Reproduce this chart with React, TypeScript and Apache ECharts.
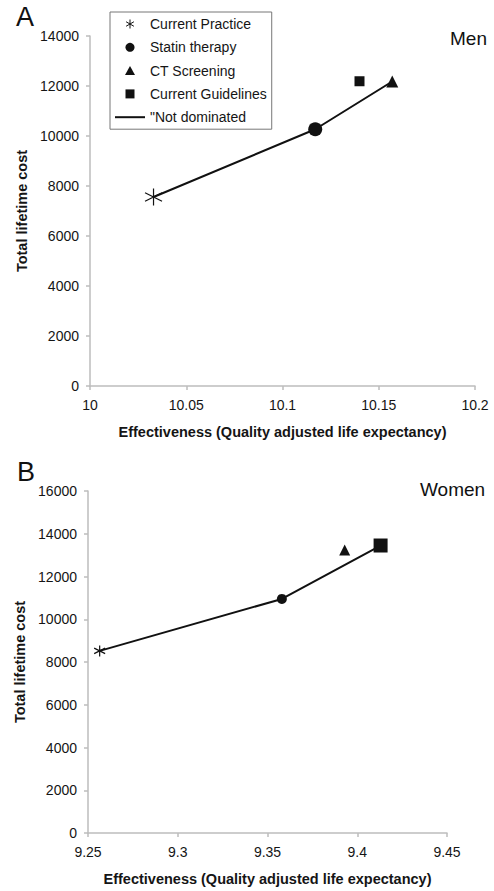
import React, { useEffect, useRef } from "react";
import * as echarts from "echarts";

const strategies = ["Current Practice", "Statin therapy", "CT Screening", "Current Guidelines"];
const frontierName = '"Not dominated';

const menEffect = [10.033, 10.117, 10.157, 10.14];
const menCost = [7560, 10270, 12180, 12190];
const menFrontier = ["Current Practice", "Statin therapy", "CT Screening"];

const womenEffect = [9.2565, 9.358, 9.393, 9.413];
const womenCost = [8520, 10950, 13240, 13450];
const womenFrontier = ["Current Practice", "Statin therapy", "Current Guidelines"];

const menXTicks = { min: 10, max: 10.2, interval: 0.05 };
const menYTicks = { min: 0, max: 14000, interval: 2000 };
const womenXTicks = { min: 9.25, max: 9.45, interval: 0.05 };
const womenYTicks = { min: 0, max: 16000, interval: 2000 };

const FONT = "'Liberation Sans', Arial, Helvetica, sans-serif";
const INK = "#111";
const TEXT = "#151515";
const AXIS = "#bdbdbd";

const ASTER = "path://M0,-1L0,1M-0.87,-0.5L0.87,0.5M-0.87,0.5L0.87,-0.5";
const TRI = "path://M0,-1L1,0.8L-1,0.8Z";
const SQUARE = "path://M0,0L1,0L1,1L0,1Z";
const LINEICON = "path://M0,0L30,0L30,2L0,2Z";
const symbols = [ASTER, "circle", TRI, SQUARE];

function buildSeries(
  idx: number,
  effect: number[],
  cost: number[],
  frontier: string[],
  sizes: number[]
) {
  const line = {
    type: "line",
    name: frontierName,
    xAxisIndex: idx,
    yAxisIndex: idx,
    symbol: "none",
    lineStyle: { color: INK, width: 2 },
    itemStyle: { color: INK },
    data: frontier.map((n) => {
      const i = strategies.indexOf(n);
      return [effect[i], cost[i]];
    }),
    z: 2,
  };
  const pts = strategies.map((n, i) => ({
    type: "scatter",
    name: n,
    xAxisIndex: idx,
    yAxisIndex: idx,
    symbol: symbols[i],
    symbolSize: sizes[i],
    itemStyle:
      i === 0
        ? { color: "none", borderColor: INK, borderWidth: 1.2, opacity: 1 }
        : { color: INK, opacity: 1 },
    data: [[effect[i], cost[i]]],
    z: 3,
  }));
  return [line, ...pts];
}

function xAxis(idx: number, t: any) {
  return {
    type: "value",
    gridIndex: idx,
    min: t.min,
    max: t.max,
    interval: t.interval,
    name: "Effectiveness (Quality adjusted life expectancy)",
    nameLocation: "middle",
    nameGap: 38,
    nameTextStyle: { fontFamily: FONT, fontSize: 14.5, fontWeight: "bold", color: TEXT },
    axisLine: { show: true, lineStyle: { color: AXIS, width: 1.5 } },
    axisTick: { show: true, length: 4, lineStyle: { color: AXIS, width: 1.5 } },
    axisLabel: { fontFamily: FONT, fontSize: 14, color: TEXT, margin: 12 },
    splitLine: { show: false },
  };
}

function yAxis(idx: number, t: any) {
  return {
    type: "value",
    gridIndex: idx,
    min: t.min,
    max: t.max,
    interval: t.interval,
    name: "Total lifetime cost",
    nameLocation: "middle",
    nameGap: 51,
    nameTextStyle: { fontFamily: FONT, fontSize: 14.5, fontWeight: "bold", color: TEXT },
    axisLine: { show: true, lineStyle: { color: AXIS, width: 1.5 } },
    axisTick: { show: true, length: 4, lineStyle: { color: AXIS, width: 1.5 } },
    axisLabel: {
      fontFamily: FONT,
      fontSize: 14,
      color: TEXT,
      margin: 11,
      formatter: (v: number) => String(v),
    },
    splitLine: { show: false },
  };
}

export default function App() {
  const ref = useRef<HTMLDivElement>(null);
  useEffect(() => {
    if (!ref.current) return;
    const chart = echarts.init(ref.current, undefined, { renderer: "svg" });
    chart.setOption({
      animation: false,
      backgroundColor: "#fff",
      grid: [
        { left: 90, top: 36, width: 385, height: 350 },
        { left: 88, top: 491, width: 359, height: 342 },
      ],
      xAxis: [xAxis(0, menXTicks), xAxis(1, womenXTicks)],
      yAxis: [yAxis(0, menYTicks), yAxis(1, womenYTicks)],
      legend: {
        orient: "vertical",
        left: 110,
        top: 12,
        padding: [5, 5, 5, 5],
        itemGap: 9.3,
        itemWidth: 30,
        itemHeight: 9,
        borderColor: "#777",
        borderWidth: 1,
        backgroundColor: "#fff",
        selectedMode: false,
        textStyle: { fontFamily: FONT, fontSize: 14, color: TEXT },
        data: [
          {
            name: "Current Practice",
            icon: ASTER,
            itemStyle: { color: "none", borderColor: INK, borderWidth: 1, opacity: 1 },
          },
          { name: "Statin therapy", icon: "circle", itemStyle: { color: INK, opacity: 1 } },
          { name: "CT Screening", icon: TRI, itemStyle: { color: INK, opacity: 1 } },
          { name: "Current Guidelines", icon: SQUARE, itemStyle: { color: INK, opacity: 1 } },
          { name: frontierName, icon: LINEICON, itemStyle: { color: INK, opacity: 1 } },
        ],
      },
      graphic: [
        { type: "text", left: 16, top: 3, style: { text: "A", font: `27px ${FONT}`, fill: INK } },
        { type: "text", left: 450, top: 29, style: { text: "Men", font: `19px ${FONT}`, fill: INK } },
        { type: "text", left: 17, top: 458, style: { text: "B", font: `27px ${FONT}`, fill: INK } },
        { type: "text", left: 420, top: 480, style: { text: "Women", font: `19px ${FONT}`, fill: INK } },
      ],
      series: [
        ...buildSeries(0, menEffect, menCost, menFrontier, [17, 14, 12, 10]),
        ...buildSeries(1, womenEffect, womenCost, womenFrontier, [11, 10, 11, 14]),
      ],
    });
    return () => chart.dispose();
  }, []);
  return (
    <div
      ref={ref}
      style={{ position: "fixed", left: 0, top: 0, width: 494, height: 891, background: "#fff" }}
    />
  );
}
